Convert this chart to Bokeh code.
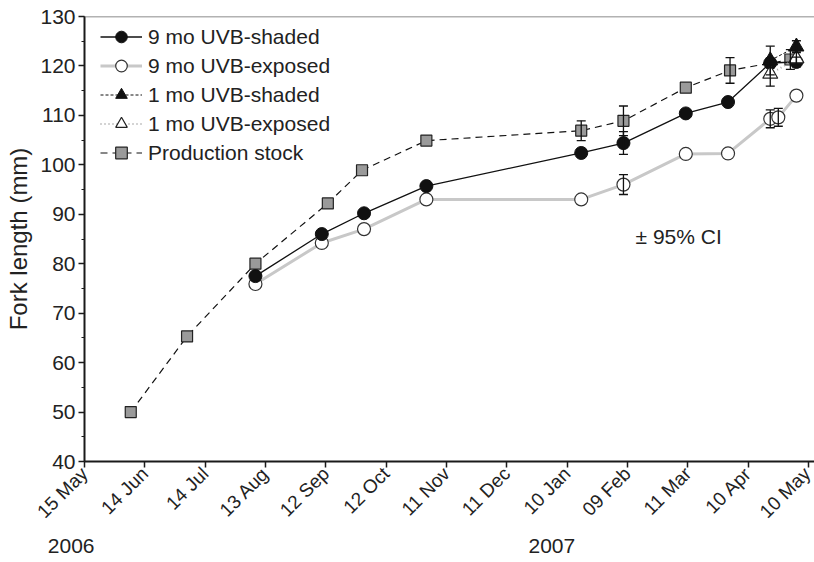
import pandas as pd
from math import pi
from bokeh.plotting import figure
from bokeh.models import (ColumnDataSource, Whisker, TeeHead, Span, Label, Legend,
                          LegendItem, FixedTicker, SingleIntervalTicker, Range1d, LinearAxis)
from bokeh.embed import file_html
from bokeh.resources import INLINE

START = "2006-05-15"

tick_dates = ["2006-05-15", "2006-06-14", "2006-07-14", "2006-08-13", "2006-09-12",
              "2006-10-12", "2006-11-11", "2006-12-11", "2007-01-10", "2007-02-09",
              "2007-03-11", "2007-04-10", "2007-05-10"]
tick_labels = ["15 May", "14 Jun", "14 Jul", "13 Aug", "12 Sep", "12 Oct", "11 Nov",
               "11 Dec", "10 Jan", "09 Feb", "11 Mar", "10 Apr", "10 May"]
year_labels = ["2006", "2007"]

shaded9_dates = ["2006-08-08", "2006-09-10", "2006-10-01", "2006-11-01", "2007-01-17",
                 "2007-02-07", "2007-03-10", "2007-03-31", "2007-04-21", "2007-05-04"]
shaded9_fl = [77.5, 86.0, 90.2, 95.7, 102.4, 104.4, 110.4, 112.7, 120.6, 120.8]
shaded9_ci = [0, 0, 0, 0, 0, 2.3, 0, 0, 1.0, 1.0]

exposed9_dates = ["2006-08-08", "2006-09-10", "2006-10-01", "2006-11-01", "2007-01-17",
                  "2007-02-07", "2007-03-10", "2007-03-31", "2007-04-21", "2007-04-25",
                  "2007-05-04"]
exposed9_fl = [75.9, 84.2, 87.0, 93.0, 93.0, 96.0, 102.2, 102.3, 109.3, 109.6, 114.0]
exposed9_ci = [0, 0, 0, 0, 0, 2.0, 0, 0, 1.8, 1.8, 0]

shaded1_dates = ["2007-04-21", "2007-05-04"]
shaded1_fl = [121.1, 123.9]
shaded1_ci = [2.9, 1.2]

exposed1_dates = ["2007-04-21", "2007-05-04"]
exposed1_fl = [118.4, 121.5]
exposed1_ci = [2.5, 1.5]

stock_dates = ["2006-06-07", "2006-07-05", "2006-08-08", "2006-09-13", "2006-09-30",
               "2006-11-01", "2007-01-17", "2007-02-07", "2007-03-10", "2007-04-01",
               "2007-05-01"]
stock_fl = [50.0, 65.3, 80.0, 92.2, 98.9, 104.9, 106.9, 108.9, 115.6, 119.1, 121.3]
stock_ci = [0, 0, 0, 0, 0, 0, 2.0, 3.0, 0, 2.6, 2.0]


def days(ds):
    s = pd.Timestamp(START)
    return [(pd.Timestamp(d) - s).days for d in ds]


FONT = "Liberation Sans"
TXT = "#222222"

p = figure(width=814, height=562, x_range=Range1d(0, 363), y_range=Range1d(40, 130),
           output_backend="svg", toolbar_location=None,
           min_border_left=84, min_border_right=0, min_border_top=16, min_border_bottom=101)
p.grid.visible = False
p.outline_line_color = None

tick_days = days(tick_dates)
p.xaxis.ticker = FixedTicker(ticks=tick_days)
p.xaxis.major_label_overrides = {d: l for d, l in zip(tick_days, tick_labels)}
p.xaxis.major_label_orientation = pi / 4
p.yaxis.ticker = SingleIntervalTicker(interval=10, num_minor_ticks=2)

for ax in (p.xaxis[0], p.yaxis[0]):
    ax.axis_line_width = 2
    ax.axis_line_color = "#1a1a1a"
    ax.major_tick_out = 6
    ax.major_tick_in = 0
    ax.major_tick_line_color = "#1a1a1a"
    ax.major_tick_line_width = 1.5
    ax.minor_tick_out = 3
    ax.minor_tick_in = 0
    ax.minor_tick_line_color = "#1a1a1a"
    ax.major_label_text_font = FONT
    ax.major_label_text_color = TXT
    ax.major_label_standoff = 3
p.xaxis.major_label_text_font_size = "19px"
p.yaxis.major_label_text_font_size = "21px"
p.yaxis.axis_label = "Fork length (mm)"
p.yaxis.axis_label_text_font = FONT
p.yaxis.axis_label_text_font_style = "normal"
p.yaxis.axis_label_text_font_size = "24px"
p.yaxis.axis_label_text_color = TXT
p.yaxis.axis_label_standoff = 5

# year labels: a second, line-less axis below the date axis; each label ends at its tick
year_ticks = [5, 244]
yr_axis = LinearAxis(ticker=FixedTicker(ticks=year_ticks),
                     major_label_overrides={t: l for t, l in zip(year_ticks, year_labels)})
yr_axis.axis_line_color = None
yr_axis.major_tick_line_color = None
yr_axis.minor_tick_line_color = None
yr_axis.major_tick_out = 0
yr_axis.major_label_standoff = 13
yr_axis.major_label_orientation = 1e-4
yr_axis.major_label_text_font = FONT
yr_axis.major_label_text_font_size = "21px"
yr_axis.major_label_text_color = TXT
p.add_layout(yr_axis, "below")

p.add_layout(Span(location=130, dimension="width", line_color="#666666", line_width=1.5))


def whiskers(xd, fl, ci):
    b, u, l = [], [], []
    for x, y, e in zip(xd, fl, ci):
        if e > 0:
            b.append(x); u.append(y + e); l.append(y - e)
    src = ColumnDataSource(dict(base=b, upper=u, lower=l))
    w = Whisker(source=src, base="base", upper="upper", lower="lower", dimension="height",
                line_color="#111111", line_width=1.3, level="overlay",
                upper_head=TeeHead(size=9, line_color="#111111", line_width=1.3),
                lower_head=TeeHead(size=9, line_color="#111111", line_width=1.3))
    p.add_layout(w)


# 9 mo UVB-exposed
x = days(exposed9_dates)
l2 = p.line(x, exposed9_fl, line_color="#c8c8c8", line_width=3)
s2 = p.scatter(x, exposed9_fl, marker="circle", size=13, fill_color="white",
               line_color="#333333", line_width=1.2)
whiskers(x, exposed9_fl, exposed9_ci)

# Production stock
x = days(stock_dates)
l5 = p.line(x, stock_fl, line_color="#111111", line_width=1.2, line_dash="7 5")
s5 = p.scatter(x, stock_fl, marker="square", size=11, fill_color="#9a9a9a",
               line_color="#222222", line_width=1.2)
whiskers(x, stock_fl, stock_ci)

# 9 mo UVB-shaded
x = days(shaded9_dates)
l1 = p.line(x, shaded9_fl, line_color="#111111", line_width=1.3)
s1 = p.scatter(x, shaded9_fl, marker="circle", size=13, fill_color="#111111",
               line_color="#111111")
whiskers(x, shaded9_fl, shaded9_ci)

# 1 mo UVB-exposed
x = days(exposed1_dates)
l4 = p.line(x, exposed1_fl, line_color="#aaaaaa", line_width=2, line_dash="1 3")
s4 = p.scatter(x, exposed1_fl, marker="triangle", size=15, fill_color="white",
               line_color="#222222", line_width=1.2)
whiskers(x, exposed1_fl, exposed1_ci)

# 1 mo UVB-shaded
x = days(shaded1_dates)
l3 = p.line(x, shaded1_fl, line_color="#111111", line_width=1, line_dash="3 2")
s3 = p.scatter(x, shaded1_fl, marker="triangle", size=15, fill_color="#111111",
               line_color="#111111")
whiskers(x, shaded1_fl, shaded1_ci)

legend = Legend(items=[
    LegendItem(label="9 mo UVB-shaded", renderers=[l1, s1]),
    LegendItem(label="9 mo UVB-exposed", renderers=[l2, s2]),
    LegendItem(label="1 mo UVB-shaded", renderers=[l3, s3]),
    LegendItem(label="1 mo UVB-exposed", renderers=[l4, s4]),
    LegendItem(label="Production stock", renderers=[l5, s5]),
], location=(16, 294))
legend.margin = 0
legend.padding = 0
legend.spacing = 0
legend.glyph_width = 42
legend.glyph_height = 29
legend.label_height = 29
legend.label_standoff = 6
legend.label_text_font = FONT
legend.label_text_font_size = "21px"
legend.label_text_color = TXT
legend.background_fill_alpha = 0
legend.border_line_color = None
p.add_layout(legend, "center")

p.add_layout(Label(x=274, y=85.5, text="± 95% CI", text_font=FONT, text_font_size="21px",
                   text_color=TXT, text_baseline="alphabetic"))

open("out.html", "w").write(file_html(p, INLINE))
